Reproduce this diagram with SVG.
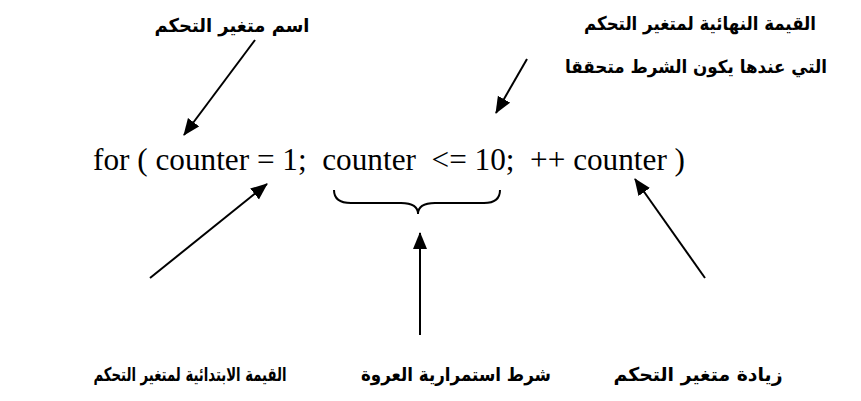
<svg xmlns="http://www.w3.org/2000/svg" width="861" height="401" viewBox="0 0 861 401">
<style>
.ar{font-family:"DejaVu Sans",sans-serif;font-weight:bold;font-size:19px;fill:#000;text-anchor:middle}
.code{font-family:"Liberation Serif",serif;font-size:32px;fill:#000;white-space:pre}
.ln{stroke:#000;stroke-width:2;fill:none}
</style>
<defs>
<marker id="ah" markerUnits="userSpaceOnUse" markerWidth="20" markerHeight="16" refX="16" refY="7" orient="auto">
<path d="M0,0 L17,7 L0,14 Z" fill="#000"/>
</marker>
</defs>
<rect width="861" height="401" fill="#fff"/>
<g id="code"><text class="code" x="93" y="170" textLength="592" lengthAdjust="spacingAndGlyphs" xml:space="preserve">for ( counter = 1;  counter  &lt;= 10;  ++ counter )</text></g>
<g id="label-name"><text class="ar" x="232" y="32" textLength="155" lengthAdjust="spacingAndGlyphs">اسم متغير التحكم</text></g>
<g id="label-final"><text class="ar" x="700" y="30" textLength="232" lengthAdjust="spacingAndGlyphs">القيمة النهائية لمتغير التحكم</text><text class="ar" x="696" y="73" style="font-size:18px" textLength="262" lengthAdjust="spacingAndGlyphs">التي عندها يكون الشرط متحققا</text></g>
<g id="label-init"><text class="ar" x="190" y="381" textLength="193" lengthAdjust="spacingAndGlyphs">القيمة الابتدائية لمتغير التحكم</text></g>
<g id="label-cond"><text class="ar" x="456" y="381" textLength="190" lengthAdjust="spacingAndGlyphs">شرط استمرارية العروة</text></g>
<g id="label-inc"><text class="ar" x="698" y="381" textLength="169" lengthAdjust="spacingAndGlyphs">زيادة متغير التحكم</text></g>
<g id="connectors">
<line class="ln" x1="255" y1="40" x2="184" y2="135" marker-end="url(#ah)"/>
<line class="ln" x1="527" y1="59" x2="496" y2="113" marker-end="url(#ah)"/>
<line class="ln" x1="150" y1="278" x2="267" y2="184" marker-end="url(#ah)"/>
<line class="ln" x1="420" y1="335" x2="420" y2="233" marker-end="url(#ah)"/>
<line class="ln" x1="705" y1="278" x2="635" y2="179" marker-end="url(#ah)"/>
<path class="ln" d="M334,190 Q334,203 351,203 L401,203 Q418,203 418,214 Q418,203 435,203 L484,203 Q500,203 500,190"/>
</g>
</svg>
